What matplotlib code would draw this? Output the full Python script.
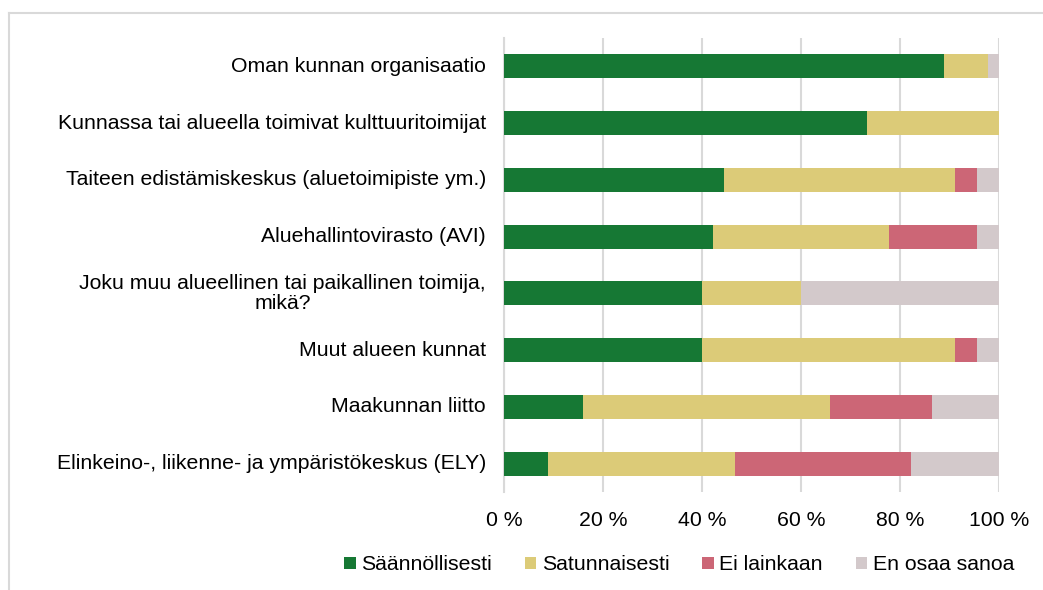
import matplotlib.pyplot as plt
import matplotlib.transforms as mtransforms
from matplotlib.lines import Line2D
import numpy as np

plt.rcParams['font.family'] = ['Liberation Sans', 'DejaVu Sans']

# Categories, top to bottom as in the chart
categories = [
    "Oman kunnan organisaatio",
    "Kunnassa tai alueella toimivat kulttuuritoimijat",
    "Taiteen edistämiskeskus (aluetoimipiste ym.)",
    "Aluehallintovirasto (AVI)",
    "Joku muu alueellinen tai paikallinen toimija,\nmikä?",
    "Muut alueen kunnat",
    "Maakunnan liitto",
    "Elinkeino-, liikenne- ja ympäristökeskus (ELY)",
]

# Shares (%)
saannollisesti = [88.9, 73.3, 44.4, 42.2, 40.0, 40.0, 15.9, 8.9]
satunnaisesti = [8.9, 26.7, 46.7, 35.6, 20.0, 51.1, 50.0, 37.8]
ei_lainkaan = [0.0, 0.0, 4.4, 17.8, 0.0, 4.4, 20.5, 35.6]
en_osaa_sanoa = [2.2, 0.0, 4.4, 4.4, 40.0, 4.4, 13.6, 17.8]

series = [
    ("Säännöllisesti", saannollisesti, "#167834"),
    ("Satunnaisesti", satunnaisesti, "#dccb78"),
    ("Ei lainkaan", ei_lainkaan, "#cc6676"),
    ("En osaa sanoa", en_osaa_sanoa, "#d3c9cb"),
]

fs = 15.3

fig = plt.figure(figsize=(10.43, 5.9), dpi=100)
ax = fig.add_axes([504 / 1043, 1 - 492 / 590, 495 / 1043, 454 / 590])

y = np.arange(len(categories))
left = np.zeros(len(categories))
for name, vals, color in series:
    vals = np.array(vals)
    ax.barh(y, vals, left=left, height=0.42, color=color, label=name, zorder=3)
    left += vals

ax.set_ylim(len(categories) - 0.5, -0.5)
ax.set_xlim(0, 100)
ax.set_yticks(y)
ax.set_yticklabels([])
ax.set_xticks(range(0, 101, 20))
ax.set_xticklabels([f"{v} %" for v in range(0, 101, 20)], fontsize=fs)
ax.tick_params(axis='both', length=0)
ax.tick_params(axis='x', pad=14)

# category labels, block right-aligned, lines centred
trans = mtransforms.blended_transform_factory(ax.transAxes, ax.transData)
offset = mtransforms.ScaledTranslation(-18 / 100, 0, fig.dpi_scale_trans)
for yi, cat in zip(y, categories):
    ax.text(0, yi, cat, transform=trans + offset, ha='right', va='center',
            multialignment='center', fontsize=fs, linespacing=1.1)

ax.grid(axis='x', color='#d9d9d9', linewidth=1.5, zorder=0)
for s in ['top', 'right', 'bottom']:
    ax.spines[s].set_visible(False)
ax.spines['left'].set_color('#d9d9d9')
ax.spines['left'].set_linewidth(1.5)

fig.legend(loc='center', bbox_to_anchor=(679 / 1043, 1 - 565 / 590), ncol=4,
           frameon=False, fontsize=fs, handlelength=0.55, handleheight=0.55,
           handletextpad=0.25, columnspacing=1.55)

# light grey frame lines around the chart area
fig.add_artist(Line2D([9 / 1043, 1], [1 - 13 / 590, 1 - 13 / 590], color='#d9d9d9', linewidth=1.5))
fig.add_artist(Line2D([9 / 1043, 9 / 1043], [0, 1 - 13 / 590], color='#d9d9d9', linewidth=1.5))

fig.savefig("out.png", dpi=100)
